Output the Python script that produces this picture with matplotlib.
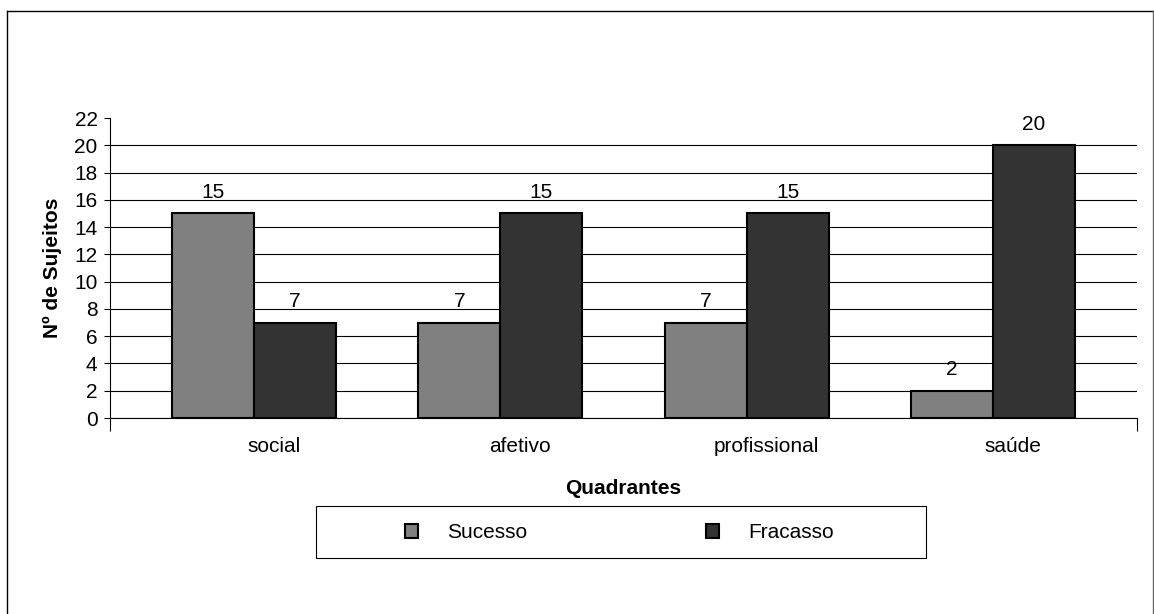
import matplotlib
matplotlib.use("Agg")
import matplotlib.pyplot as plt
import matplotlib.patches as mpatches
import matplotlib.lines as mlines
from matplotlib.transforms import ScaledTranslation
import numpy as np

plt.rcParams['font.family'] = ['Liberation Sans', 'DejaVu Sans']
plt.rcParams['font.size'] = 15

quadrantes = ['social', 'afetivo', 'profissional', 'saúde']
sucesso = [15, 7, 7, 2]
fracasso = [7, 15, 15, 20]
yticks = list(range(0, 23, 2))

W, H = 1154, 614
fig = plt.figure(figsize=(W / 100, H / 100), dpi=100)
ax = fig.add_axes([110 / W, 196 / H, 1027 / W, 300 / H])

x = np.arange(len(quadrantes))
bw = 0.333
b1 = ax.bar(x - bw / 2, sucesso, bw, color='#808080', edgecolor='black',
            linewidth=1.5, label='Sucesso', zorder=3)
b2 = ax.bar(x + bw / 2, fracasso, bw, color='#333333', edgecolor='black',
            linewidth=1.5, label='Fracasso', zorder=3)

# value labels above bars
for bars, vals in ((b1, sucesso), (b2, fracasso)):
    for rect, v in zip(bars, vals):
        ax.annotate(str(v), (rect.get_x() + rect.get_width() / 2, v),
                    xytext=(0, 11), textcoords='offset points',
                    ha='center', va='baseline', zorder=4)

ax.set_xlim(-0.585, len(quadrantes) - 1 + 0.585)
ax.set_ylim(0, 22)
ax.set_yticks(yticks)

# grid (no line on top tick)
ax.set_axisbelow(True)
ax.yaxis.grid(True, color='black', linewidth=0.8)
ax.get_ygridlines()[-1].set_visible(False)

for s in ('top', 'right'):
    ax.spines[s].set_visible(False)
ax.spines['left'].set_linewidth(0.8)
ax.spines['bottom'].set_linewidth(0.8)

ax.tick_params(axis='y', direction='out', length=4, width=0.8, pad=5)

# category labels, no tick marks, shifted like the original
ax.set_xticks(x)
ax.set_xticklabels(quadrantes)
ax.tick_params(axis='x', which='major', length=0, pad=14)
for lbl in ax.get_xticklabels():
    lbl.set_transform(lbl.get_transform() + ScaledTranslation(0.2, 0, fig.dpi_scale_trans))

# end tick marks on x axis
ax.set_xticks(list(ax.get_xlim()), minor=True)
ax.tick_params(axis='x', which='minor', direction='out', length=9, width=0.8)

ax.set_ylabel('Nº de Sujeitos', fontweight='bold')
ax.yaxis.set_label_coords(-0.047, 0.5)
ax.set_xlabel('Quadrantes', fontweight='bold')
ax.xaxis.set_label_coords(0.5, -0.205)

# legend with its own frame
fig.patches.append(mpatches.Rectangle((316 / W, (H - 558) / H), 610 / W, 52 / H,
                                      transform=fig.transFigure, fill=False,
                                      edgecolor='black', linewidth=0.8))
fig.legend(handles=[b1, b2], loc='center left',
           bbox_to_anchor=(405 / W, (H - 533) / H), ncol=2, frameon=False,
           borderpad=0, borderaxespad=0, handlelength=0.62, handleheight=0.62,
           handletextpad=1.4, columnspacing=8.6)

# outer chart border (left, top, right)
fig.lines.append(mlines.Line2D([7 / W, 7 / W], [0, (H - 11) / H],
                               transform=fig.transFigure, color='black', linewidth=1))
fig.lines.append(mlines.Line2D([7 / W, 1153 / W], [(H - 11) / H, (H - 11) / H],
                               transform=fig.transFigure, color='black', linewidth=1))
fig.lines.append(mlines.Line2D([1153 / W, 1153 / W], [0, (H - 11) / H],
                               transform=fig.transFigure, color='#666666', linewidth=1))

fig.savefig('out.png', dpi=100)
